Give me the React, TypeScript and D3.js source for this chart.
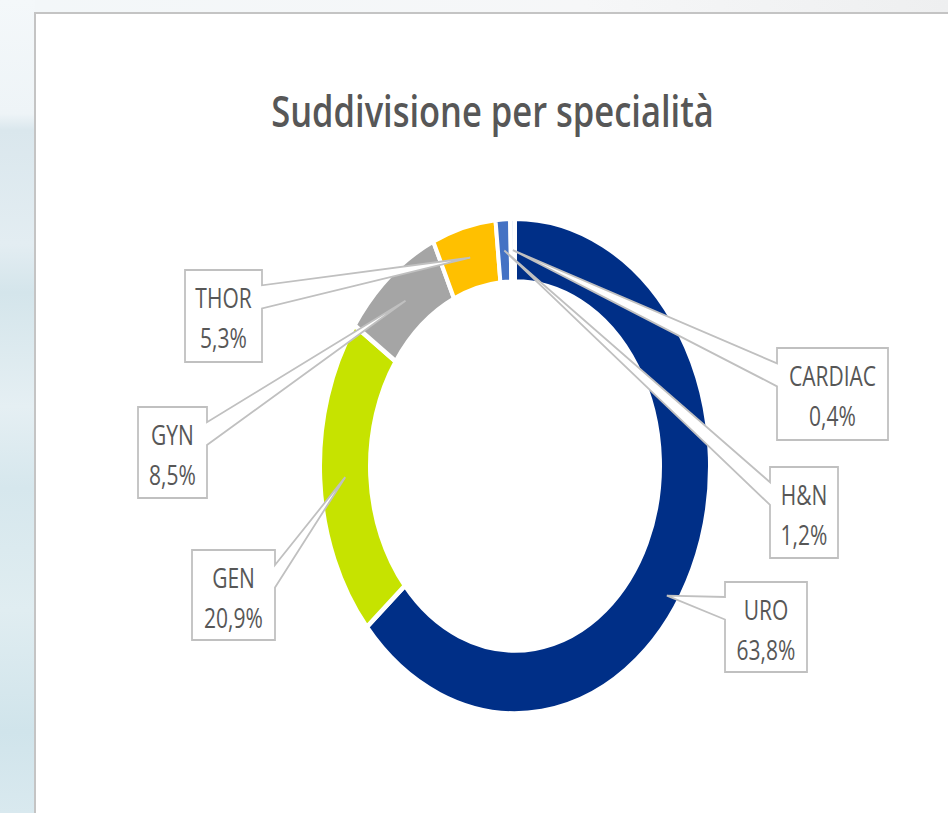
import React from "react";
import * as d3 from "d3";

// chart data
const categories = ["URO", "GEN", "GYN", "THOR", "H&N", "CARDIAC"];
const shares = [63.8, 20.9, 8.5, 5.3, 1.2, 0.4];
const sliceColors = ["#002F87", "#C6E300", "#A5A5A5", "#FFC000", "#4472C4", "#E8F0FA"];
const title = "Suddivisione per specialità";

// callout boxes (screen coords), optional tip override along slice
const labelBoxes: Record<string, { x: number; y: number; w: number; h: number; t?: number; r?: number }> = {
  URO: { x: 725, y: 582, w: 82, h: 90, t: 0.54, r: 183 },
  GEN: { x: 192, y: 550, w: 83, h: 90 },
  GYN: { x: 138, y: 407, w: 69, h: 91 },
  THOR: { x: 185, y: 270, w: 77, h: 92 },
  "H&N": { x: 770, y: 467, w: 68, h: 91 },
  CARDIAC: { x: 777, y: 348, w: 111, h: 92 },
};

const W = 948,
  H = 813;
const cx = 515,
  cy = 466,
  sy = 1.27;
const rOuter = 195,
  rInner = 145;
const font = "'Open Sans', 'Noto Sans', sans-serif";
const textColor = "#575757";

// Excel-like wedge rectangle callout
function wedgePath(l: number, t: number, w: number, h: number, px: number, py: number) {
  const hc = l + w / 2,
    vc = t + h / 2;
  const dx = px - hc,
    dy = py - vc;
  const dq = (dx * h) / w;
  const vertical = Math.abs(dy) > Math.abs(dq);
  const x1 = l + (w * (dx > 0 ? 7 : 2)) / 12,
    x2 = l + (w * (dx > 0 ? 10 : 5)) / 12;
  const y1 = t + (h * (dy > 0 ? 7 : 2)) / 12,
    y2 = t + (h * (dy > 0 ? 10 : 5)) / 12;
  const r = l + w,
    b = t + h;
  let pts: [number, number][];
  if (vertical && dy < 0) pts = [[l, t], [x1, t], [px, py], [x2, t], [r, t], [r, b], [l, b]];
  else if (vertical) pts = [[l, t], [r, t], [r, b], [x2, b], [px, py], [x1, b], [l, b]];
  else if (dx < 0) pts = [[l, t], [r, t], [r, b], [l, b], [l, y2], [px, py], [l, y1]];
  else pts = [[l, t], [r, t], [r, y1], [px, py], [r, y2], [r, b], [l, b]];
  return d3.line()(pts) + "Z";
}

export default function App() {
  const pie = d3.pie<number>().sort(null).value((d) => d);
  const arcs = pie(shares);
  const arc = d3.arc<d3.PieArcDatum<number>>().innerRadius(rInner).outerRadius(rOuter);

  return (
    <svg width={W} height={H} style={{ position: "absolute", left: 0, top: 0 }}>
      <defs>
        <linearGradient id="bgLeft" x1="0" y1="0" x2="0" y2="1">
          <stop offset="0" stopColor="#f4f8fa" />
          <stop offset="0.14" stopColor="#eef4f7" />
          <stop offset="0.16" stopColor="#dae7ed" />
          <stop offset="0.3" stopColor="#e3edf2" />
          <stop offset="0.36" stopColor="#d4e5eb" />
          <stop offset="0.5" stopColor="#e5eff3" />
          <stop offset="0.6" stopColor="#d6e7ed" />
          <stop offset="0.75" stopColor="#e0edf1" />
          <stop offset="0.9" stopColor="#d0e4eb" />
          <stop offset="1" stopColor="#d9e9ef" />
        </linearGradient>
        <linearGradient id="bgTop" x1="0" y1="0" x2="1" y2="0">
          <stop offset="0" stopColor="#f3f7f9" />
          <stop offset="0.6" stopColor="#f6f7f8" />
          <stop offset="1" stopColor="#eeeff0" />
        </linearGradient>
      </defs>
      <rect x={0} y={0} width={W} height={H} fill="url(#bgLeft)" />
      <rect x={35} y={0} width={W - 35} height={14} fill="url(#bgTop)" />
      <rect x={35} y={13} width={W + 20} height={H + 20} fill="#ffffff" stroke="#c4c4c4" strokeWidth={2} />

      <text
        transform={`translate(492.5,127) scale(1,${sy})`}
        textAnchor="middle"
        fontFamily={font}
        fontWeight={600}
        fontSize={34.5}
        fill={textColor}
      >
        {title}
      </text>

      <g transform={`translate(${cx},${cy}) scale(1,${sy})`}>
        {arcs.map((d, i) => (
          <path key={categories[i]} d={arc(d) || ""} fill={sliceColors[i]} stroke="#ffffff" strokeWidth={4} />
        ))}
      </g>

      {arcs.map((d, i) => {
        const name = categories[i];
        const box = labelBoxes[name];
        const tt = box.t ?? 0.5;
        const rr = box.r ?? (rOuter + rInner) / 2;
        const a = d.startAngle + (d.endAngle - d.startAngle) * tt;
        const px = cx + rr * Math.sin(a);
        const py = cy - sy * rr * Math.cos(a);
        const mx = box.x + box.w / 2;
        return (
          <g key={name}>
            <path
              d={wedgePath(box.x, box.y, box.w, box.h, px, py)}
              fill="#ffffff"
              stroke="#c0c0c0"
              strokeWidth={1.8}
            />
            <text
              transform={`translate(${mx},${box.y + 38}) scale(1,1.3)`}
              textAnchor="middle"
              fontFamily={font}
              fontSize={21}
              fill={textColor}
            >
              {name}
            </text>
            <text
              transform={`translate(${mx},${box.y + 78}) scale(1,1.3)`}
              textAnchor="middle"
              fontFamily={font}
              fontSize={21}
              fill={textColor}
            >
              {shares[i].toFixed(1).replace(".", ",") + "%"}
            </text>
          </g>
        );
      })}
    </svg>
  );
}
